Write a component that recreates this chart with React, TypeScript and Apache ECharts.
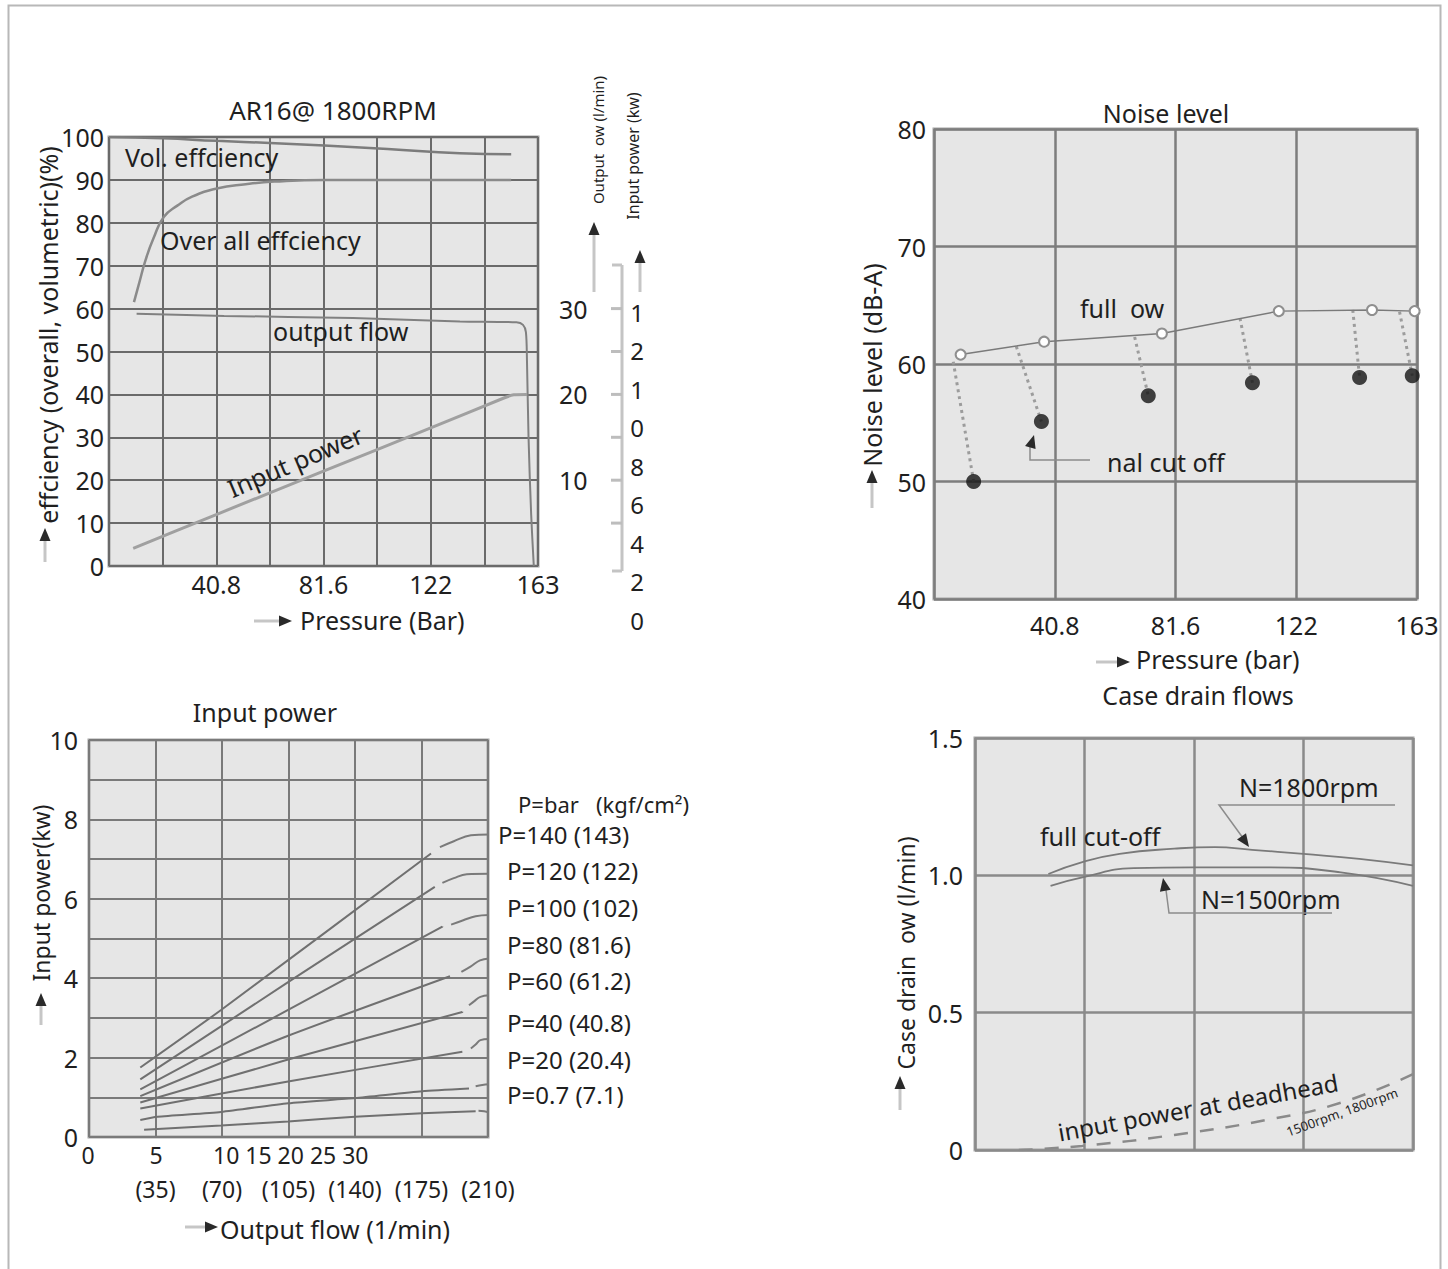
import React, { useEffect, useRef } from "react";
import * as echarts from "echarts";

const FONT = '"Noto Sans", "DejaVu Sans", sans-serif';
const INK = "#1f1f1f";

// ---------- Panel 1 : AR16@ 1800RPM ----------
const p1PressureLabels = ["", "", "40.8", "", "81.6", "", "122", "", "163"];
const volEfficiency = [[0, 100], [20.4, 99.7], [41, 99.1], [61.2, 98.6], [81.9, 98], [106, 97.2], [133.5, 96.2], [153, 96]];
const overallEfficiency = [[9.5, 61.5], [11.5, 66], [13.9, 71.3], [17, 76.5], [20.9, 81.4], [26, 84], [31.6, 86.1], [41, 88], [52, 89], [62.8, 89.6], [81.9, 90], [122.4, 90], [153, 90]];
const outputFlowCurve = [[10.5, 58.8], [43.8, 58.3], [92.8, 57.8], [133.5, 57], [155, 56.8], [157.5, 56.2], [158.6, 54.5], [159, 48], [159.6, 30], [160.6, 12], [161.6, 0]];
const inputPowerCurve = [[9.2, 4.1], [40.8, 12], [81.6, 22.1], [122.4, 32.2], [150, 39.1], [154, 39.9], [159, 40]];
const flowScaleLabels = ["", "10", "20", "30", "", ""];
const powerScaleLabels = ["1", "2", "1", "0", "8", "6", "4", "2", "0"];

// ---------- Panel 2 : Noise level ----------
const p2PressureLabels = ["", "40.8", "81.6", "122", "163"];
const fullFlowNoise = [[9, 60.8], [37.2, 61.9], [77, 62.6], [116.5, 64.5], [148, 64.6], [162.4, 64.5]];
const cutOffStart = [[6.5, 60.2], [27.8, 61.5], [67.8, 62.3], [103.4, 63.9], [141.5, 64.6], [157.3, 64.45]];
const cutOffNoise = [[13.4, 50], [36.3, 55.1], [72.4, 57.3], [107.6, 58.4], [143.8, 58.85], [161.6, 59]];

// ---------- Panel 3 : Input power ----------
const p3FlowLabels = ["", "(35)", "(70)", "(105)", "(140)", "(175)", "(210)"];
const p3FlowRowStart = ["0", "5"];
const p3FlowRow = "10 15 20 25 30";
const pressureCurveLabels = ["P=140 (143)", "P=120 (122)", "P=100 (102)", "P=80 (81.6)", "P=60 (61.2)", "P=40 (40.8)", "P=20 (20.4)", "P=0.7 (7.1)"];
const power140 = [[27, 1.75], [69.5, 3.2], [180, 7.14]];
const power120 = [[27, 1.45], [104.8, 3.9], [182, 6.3]];
const power100 = [[27, 1.2], [104.8, 3.2], [186, 5.3]];
const power80 = [[27, 1.03], [104.8, 2.55], [190, 4.05]];
const power60 = [[27, 0.87], [104.8, 1.95], [196.5, 3.15]];
const power40 = [[27, 0.72], [104.8, 1.4], [196.5, 2.15]];
const power20 = [[27, 0.43], [36, 0.51], [69.5, 0.63], [104.8, 0.85], [140, 0.98], [175.3, 1.15], [200, 1.22]];
const power07 = [[29, 0.18], [69.5, 0.29], [104.8, 0.39], [140, 0.51], [175.3, 0.6], [203.5, 0.65]];
const tail140 = [[184.7, 7.3], [192, 7.45], [201, 7.6], [210.5, 7.62]];
const tail120 = [[186, 6.4], [192, 6.52], [198.8, 6.62], [211, 6.63]];
const tail100 = [[190.6, 5.35], [197, 5.46], [203.5, 5.56], [211, 5.59]];
const tail80 = [[196, 4.16], [201, 4.3], [205.8, 4.45], [211, 4.5]];
const tail60 = [[200, 3.32], [203, 3.43], [206, 3.53], [211, 3.57]];
const tail40 = [[201, 2.23], [203.5, 2.33], [206, 2.44], [211, 2.47]];
const tail20 = [[203.5, 1.28], [207, 1.31], [211, 1.33]];
const tail07 = [[205, 0.66], [208, 0.65], [211, 0.6]];
const powerRising = [power140, power120, power100, power80, power60, power40, power20, power07];
const powerTails = [tail140, tail120, tail100, tail80, tail60, tail40, tail20, tail07];

// ---------- Panel 4 : Case drain flows ----------
const drain1800 = [[0.67, 1.005], [0.98, 1.048], [1.32, 1.078], [1.82, 1.097], [2.19, 1.103], [2.53, 1.093], [3.0, 1.078], [3.51, 1.06], [4.0, 1.036]];
const drain1500 = [[0.69, 0.962], [0.98, 0.993], [1.45, 1.026], [1.99, 1.029], [2.67, 1.029], [3.34, 1.011], [4.0, 0.962]];
const deadheadPower = [[0.4, 0.0], [0.98, 0.015], [1.82, 0.055], [2.67, 0.11], [3.34, 0.172], [4.0, 0.276]];

// ---------- helpers ----------
function txt(x: number, y: number, s: string, size = 25, align = "left", rot = 0, color = INK): any {
  return {
    type: "text",
    x,
    y,
    rotation: (rot * Math.PI) / 180,
    z: 100,
    style: {
      text: s,
      x: 0,
      y: 0,
      font: `${size}px ${FONT}`,
      fill: color,
      textAlign: align,
      textVerticalAlign: "middle",
      align,
      verticalAlign: "middle",
    },
  };
}
function vtxt(x: number, y: number, s: string, size = 25): any {
  return txt(x, y, s, size, "center", 90);
}
function head(x1: number, y1: number, x2: number, y2: number, L = 12, W = 5, color = "#2a2a2a"): any {
  const dx = x2 - x1, dy = y2 - y1, len = Math.hypot(dx, dy);
  const ux = dx / len, uy = dy / len, px = -uy, py = ux;
  const bx = x2 - ux * L, by = y2 - uy * L;
  return {
    type: "polygon",
    z: 101,
    shape: { points: [[x2, y2], [bx + px * W, by + py * W], [bx - px * W, by - py * W]] },
    style: { fill: color },
  };
}
function arrow(x1: number, y1: number, x2: number, y2: number): any[] {
  const dx = x2 - x1, dy = y2 - y1, len = Math.hypot(dx, dy);
  const ux = dx / len, uy = dy / len;
  return [
    { type: "line", z: 100, shape: { x1, y1, x2: x2 - ux * 8, y2: y2 - uy * 8 }, style: { stroke: "#c6c6c6", lineWidth: 3 } },
    head(x1, y1, x2, y2, 13, 5.5),
  ];
}
function seg(x1: number, y1: number, x2: number, y2: number, color = "#c0c0c0", w = 3): any {
  return { type: "line", z: 100, shape: { x1, y1, x2, y2 }, style: { stroke: color, lineWidth: w } };
}
function poly(points: number[][], color = "#8c8c8c", w = 1.5): any {
  return { type: "polyline", z: 100, shape: { points }, style: { stroke: color, lineWidth: w, fill: null } };
}

function buildOption(): any {
  const labelBase = { color: INK, fontFamily: FONT, fontSize: 25, showMinLabel: true, showMaxLabel: true };
  const split = (c: string, w: number) => ({ show: true, lineStyle: { color: c, width: w } });
  const gridStyle = {
    show: true,
    backgroundColor: "#e6e6e6",
    borderColor: "#a3a3a3",
    borderWidth: 3,
    containLabel: false,
    outerBoundsMode: "none",
  };
  const noLine = { axisLine: { show: false }, axisTick: { show: false } };

  const series: any[] = [];
  // panel 1
  series.push({ type: "line", xAxisIndex: 0, yAxisIndex: 0, data: volEfficiency, smooth: true, symbol: "none", lineStyle: { color: "#7c7c7c", width: 2.5 } });
  series.push({ type: "line", xAxisIndex: 0, yAxisIndex: 0, data: overallEfficiency, smooth: true, symbol: "none", lineStyle: { color: "#8a8a8a", width: 2.5 } });
  series.push({ type: "line", xAxisIndex: 0, yAxisIndex: 0, data: outputFlowCurve, smooth: 0.3, symbol: "none", lineStyle: { color: "#808080", width: 2 } });
  series.push({ type: "line", xAxisIndex: 0, yAxisIndex: 0, data: inputPowerCurve, smooth: 0.2, symbol: "none", lineStyle: { color: "#a0a0a0", width: 3 } });
  // panel 2
  series.push({
    type: "lines",
    coordinateSystem: "cartesian2d",
    xAxisIndex: 1,
    yAxisIndex: 2,
    data: cutOffStart.map((p, i) => ({ coords: [p, cutOffNoise[i]] })),
    lineStyle: { color: "#9c9c9c", width: 3, type: [3, 4], opacity: 1, curveness: 0 },
    z: 3,
  });
  series.push({
    type: "line",
    xAxisIndex: 1,
    yAxisIndex: 2,
    data: fullFlowNoise,
    symbol: "emptyCircle",
    symbolSize: 10,
    lineStyle: { color: "#7a7a7a", width: 1.5 },
    itemStyle: { color: "#8f8f8f", borderWidth: 1.5 },
    z: 4,
  });
  series.push({ type: "scatter", xAxisIndex: 1, yAxisIndex: 2, data: cutOffNoise, symbolSize: 15, itemStyle: { color: "#141414" }, z: 5 });
  // panel 3
  powerRising.forEach((d) =>
    series.push({ type: "line", xAxisIndex: 2, yAxisIndex: 3, data: d, smooth: 0.2, symbol: "none", lineStyle: { color: "#707070", width: 2 } })
  );
  powerTails.forEach((d) =>
    series.push({ type: "line", xAxisIndex: 2, yAxisIndex: 3, data: d, smooth: 0.4, symbol: "none", lineStyle: { color: "#7a7a7a", width: 2 } })
  );
  // panel 4
  series.push({ type: "line", xAxisIndex: 3, yAxisIndex: 4, data: drain1800, smooth: true, symbol: "none", lineStyle: { color: "#7a7a7a", width: 1.8 } });
  series.push({ type: "line", xAxisIndex: 3, yAxisIndex: 4, data: drain1500, smooth: true, symbol: "none", lineStyle: { color: "#7a7a7a", width: 1.8 } });
  series.push({ type: "line", xAxisIndex: 3, yAxisIndex: 4, data: deadheadPower, smooth: true, symbol: "none", lineStyle: { color: "#8a8a8a", width: 2.5, type: [14, 12] } });

  const graphics: any[] = [];
  // outer frame
  graphics.push({ type: "rect", z: 99, shape: { x: 8.5, y: 5.5, width: 1432, height: 1275 }, style: { stroke: "#b8b8b8", lineWidth: 2, fill: null } });

  // panel 1 texts
  graphics.push(txt(333, 110, "AR16@ 1800RPM", 26, "center"));
  graphics.push(txt(125, 157, "Vol. effciency"));
  graphics.push(txt(160, 240, "Over all effciency"));
  graphics.push(txt(273, 331, "output flow"));
  graphics.push(txt(295, 461, "Input power", 25, "center", 23));
  graphics.push(vtxt(48, 335, "effciency (overall, volumetric)(%)", 25));
  graphics.push(txt(300, 620, "Pressure (Bar)"));
  graphics.push(...arrow(45, 562, 45, 528));
  graphics.push(...arrow(254, 621, 292, 621));
  graphics.push(vtxt(598, 140, "Output  ow (l/min)", 15));
  graphics.push(vtxt(633, 156, "Input power (kw)", 16));
  graphics.push(...arrow(594, 292, 594, 222));
  graphics.push(...arrow(640, 292, 640, 250));
  // kw scale bar
  graphics.push(seg(622, 265, 622, 571, "#c4c4c4", 3));
  graphics.push(seg(612, 265, 622, 265, "#c4c4c4", 3));
  graphics.push(seg(612, 571, 622, 571, "#c4c4c4", 3));
  [308.6, 351.5, 394.4, 437.3, 480.2, 523.1].forEach((y) => graphics.push(seg(611, y, 622, y, "#bdbdbd", 3)));
  powerScaleLabels.forEach((s, i) => graphics.push(txt(637, 312 + i * 38.5, s, 24, "center")));

  // panel 2 texts
  graphics.push(txt(1166, 113, "Noise level", 25, "center"));
  graphics.push(txt(1080, 308, "full  ow"));
  graphics.push(txt(1107, 462, "nal cut off"));
  graphics.push(poly([[1090, 460], [1030, 460], [1030, 447]]));
  graphics.push(head(1029, 452, 1034, 435, 13, 5.5));
  graphics.push(vtxt(872, 365, "Noise level (dB-A)", 25));
  graphics.push(txt(1136, 659, "Pressure (bar)"));
  graphics.push(...arrow(872, 508, 872, 470));
  graphics.push(...arrow(1096, 662, 1130, 662));

  // panel 3 texts
  graphics.push(txt(265, 712, "Input power", 25, "center"));
  graphics.push(txt(518, 804, "P=bar   (kgf/cm²)", 22));
  const labelYs = [834, 870, 907, 944, 980, 1022, 1059, 1094];
  pressureCurveLabels.forEach((s, i) => graphics.push(txt(i === 0 ? 498 : 507, labelYs[i], s, 24)));
  graphics.push(txt(88, 1155, p3FlowRowStart[0], 23, "center"));
  graphics.push(txt(156, 1155, p3FlowRowStart[1], 23, "center"));
  graphics.push(txt(213, 1155, p3FlowRow, 23));
  graphics.push(vtxt(41, 893, "Input power(kw)", 23));
  graphics.push(txt(220, 1229, "Output flow (1/min)"));
  graphics.push(...arrow(41, 1025, 41, 993));
  graphics.push(...arrow(185, 1227, 218, 1227));

  // panel 4 texts
  graphics.push(txt(1198, 695, "Case drain flows", 25, "center"));
  graphics.push(txt(1040, 836, "full cut-off"));
  graphics.push(txt(1239, 787, "N=1800rpm"));
  graphics.push(txt(1201, 899, "N=1500rpm"));
  graphics.push(poly([[1395, 805], [1219, 805], [1243, 838]]));
  graphics.push(head(1230, 820, 1249, 847, 13, 5.5));
  graphics.push(poly([[1332, 913], [1169, 913], [1166, 890]]));
  graphics.push(head(1167, 900, 1163, 878, 13, 5.5));
  graphics.push(txt(1198, 1107, "input power at deadhead", 24, "center", 10.2));
  graphics.push(txt(1342, 1112, "1500rpm, 1800rpm", 13, "center", 20));
  graphics.push(vtxt(906, 953, "Case drain  ow (l/min)", 23));
  graphics.push(...arrow(900, 1110, 900, 1076));

  return {
    animation: false,
    backgroundColor: "#ffffff",
    textStyle: { fontFamily: FONT },
    grid: [
      { ...gridStyle, left: 109, top: 137, width: 429, height: 429 },
      { ...gridStyle, left: 934, top: 129, width: 483, height: 470 },
      { ...gridStyle, left: 89, top: 740, width: 399, height: 397 },
      { ...gridStyle, left: 975, top: 738, width: 438, height: 412 },
    ],
    xAxis: [
      {
        gridIndex: 0, type: "value", min: 0, max: 163.2, interval: 20.4, ...noLine,
        splitLine: split("#6a6a6a", 2),
        axisLabel: { ...labelBase, margin: 5, formatter: (v: number) => p1PressureLabels[Math.round(v / 20.4)] ?? "" },
      },
      {
        gridIndex: 1, type: "value", min: 0, max: 163.2, interval: 40.8, ...noLine,
        splitLine: split("#7d7d7d", 2.5),
        axisLabel: { ...labelBase, margin: 13, formatter: (v: number) => p2PressureLabels[Math.round(v / 40.8)] ?? "" },
      },
      {
        gridIndex: 2, type: "value", min: 0, max: 210, interval: 35, ...noLine,
        splitLine: split("#7a7a7a", 2),
        axisLabel: { ...labelBase, fontSize: 23, margin: 40, formatter: (v: number) => p3FlowLabels[Math.round(v / 35)] ?? "" },
      },
      {
        gridIndex: 3, type: "value", min: 0, max: 4, interval: 1, ...noLine,
        splitLine: split("#8a8a8a", 2.5),
        axisLabel: { show: false },
      },
    ],
    yAxis: [
      {
        gridIndex: 0, type: "value", min: 0, max: 100, interval: 10, ...noLine,
        splitLine: split("#6a6a6a", 2),
        axisLabel: { ...labelBase, margin: 5 },
      },
      {
        gridIndex: 0, type: "value", position: "right", min: 0, max: 50, interval: 10, ...noLine,
        splitLine: { show: false },
        axisLabel: { ...labelBase, margin: 21, formatter: (v: number) => flowScaleLabels[Math.round(v / 10)] ?? "" },
      },
      {
        gridIndex: 1, type: "value", min: 40, max: 80, interval: 10, ...noLine,
        splitLine: split("#7d7d7d", 2.5),
        axisLabel: { ...labelBase, margin: 8 },
      },
      {
        gridIndex: 2, type: "value", min: 0, max: 10, interval: 1, ...noLine,
        splitLine: split("#7a7a7a", 2),
        axisLabel: { ...labelBase, margin: 11, formatter: (v: number) => (Math.round(v) % 2 === 0 ? String(Math.round(v)) : "") },
      },
      {
        gridIndex: 3, type: "value", min: 0, max: 1.5, interval: 0.5, ...noLine,
        splitLine: split("#8a8a8a", 2.5),
        axisLabel: { ...labelBase, margin: 12, formatter: (v: number) => (v === 0 ? "0" : v.toFixed(1)) },
      },
    ],
    series,
    graphic: { elements: graphics },
  };
}

export default function App() {
  const ref = useRef<HTMLDivElement>(null);
  useEffect(() => {
    const chart = echarts.init(ref.current as HTMLDivElement, null, { renderer: "svg" });
    chart.setOption(buildOption());
    return () => chart.dispose();
  }, []);
  return (
    <div
      ref={ref}
      style={{ position: "absolute", left: 0, top: 0, width: 1448, height: 1269, background: "#ffffff" }}
    />
  );
}
